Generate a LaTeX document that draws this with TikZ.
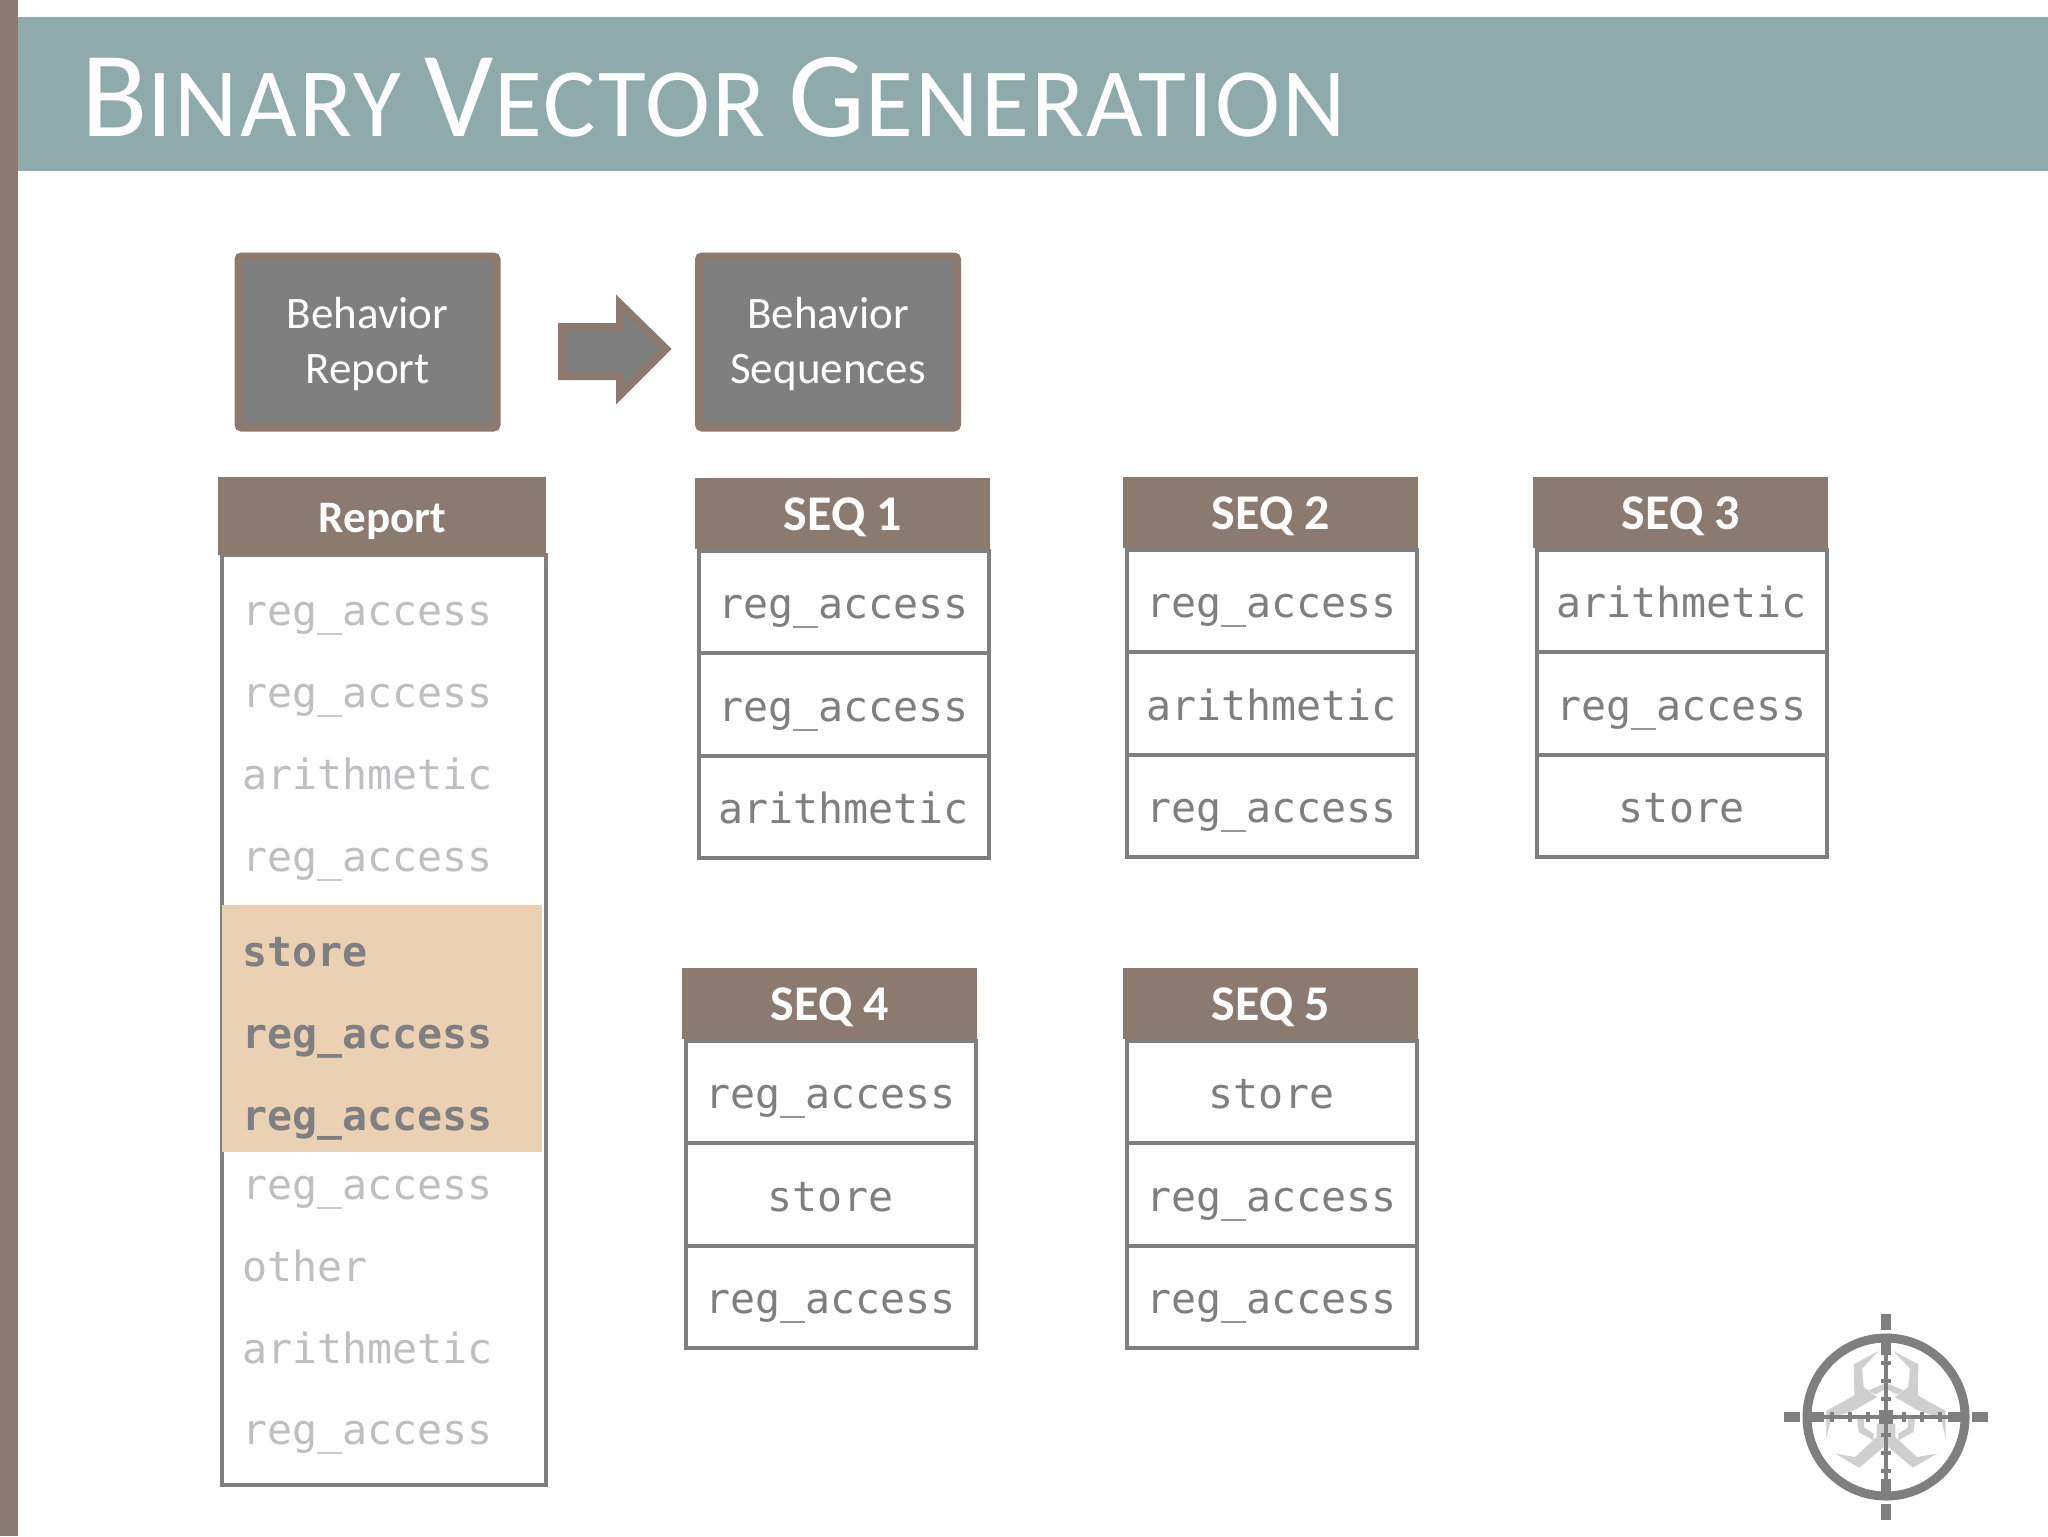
\documentclass[tikz,border=0pt]{standalone}
\usepackage{fontspec}
\setmainfont{Carlito}
\newfontfamily\monof{DejaVu Sans Mono}
\newfontfamily\titlef[LetterSpace=2.3]{Carlito}
\definecolor{brownc}{HTML}{8B7A70}
\definecolor{tealc}{HTML}{8EAAAB}
\definecolor{grayc}{HTML}{7F7F7F}
\definecolor{lightc}{HTML}{BFBFC1}
\definecolor{peachc}{HTML}{EBD1B3}
\definecolor{bioc}{HTML}{CFCFCF}
\newcommand{\bigc}[1]{{\fontsize{61}{61}\selectfont #1}}
\newcommand{\smlc}[1]{{\fontsize{49}{49}\selectfont #1}}
\tikzset{
  x=0.5pt,y=-0.5pt,
  hdrbox/.style={fill=brownc,draw=none,text=white,anchor=north west,inner sep=0pt,minimum width=147.5pt,minimum height=35.5pt,text height=16.5pt,text depth=0pt,font=\fontsize{25}{25}\selectfont\bfseries},
  rowbox/.style={draw=grayc,line width=2pt,fill=white,text=grayc,anchor=north west,inner sep=0pt,minimum width=145pt,minimum height=51.25pt,text height=17pt,text depth=0pt,font=\monof\fontsize{20.8}{20.8}\selectfont},
  topbox/.style={draw=brownc,fill=grayc,line width=4pt,rounded corners=1.5pt,text=white,align=center,inner sep=0pt,minimum width=129pt,minimum height=85.5pt,font=\fontsize{22.5}{27.5}\selectfont},
  replabel/.style={anchor=base west,inner sep=0pt,text=lightc,font=\monof\fontsize{20.8}{20.8}\selectfont},
  hilabel/.style={anchor=base west,inner sep=0pt,text=grayc,font=\monof\bfseries\fontsize{20.8}{20.8}\selectfont},
  bio/.style={fill=bioc,draw=none},
  scopeline/.style={fill=grayc,draw=none}
}
\newcommand{\seqtab}[7]{%
  \node[hdrbox] (#1h) at (#2,#3) {#4};
  \node[rowbox] (#1a) at (#2+1.5,#3+70.5) {#5};
  \node[rowbox] (#1b) at (#2+1.5,#3+173) {#6};
  \node[rowbox] (#1c) at (#2+1.5,#3+275.5) {#7};
}
\begin{document}
\begin{tikzpicture}
\useasboundingbox (0,0) rectangle (2048,1536);
\fill[white] (0,0) rectangle (2048,1536);
\fill[brownc] (0,0) rectangle (18,1536);
\fill[tealc] (18,17) rectangle (2048,171);
\node[anchor=base west,inner sep=0pt,text=white,font=\titlef] (title) at (81,136)
  {\bigc{B}\smlc{INARY}\hspace{12pt}\bigc{V}\smlc{ECTOR}\hspace{11.5pt}\bigc{G}\smlc{ENERATION}};
% top boxes
\node[topbox] (br) at (367.5,342) {\rule{0pt}{18pt}Behavior\\Report};
\node[topbox] (bs) at (828,342) {\rule{0pt}{18pt}Behavior\\Sequences};
\draw[draw=brownc,fill=grayc,line width=4pt,miter limit=10] (562,327)--(620,327)--(620,304)--(666,349)--(620,395)--(620,376)--(562,376)--cycle;
% report
\node[draw=grayc,line width=2pt,fill=white,anchor=north west,inner sep=0pt,minimum width=162pt,minimum height=465pt] (rb) at (219.5,552.5) {};
\node[fill=brownc,text=white,anchor=north west,inner sep=0pt,minimum width=164pt,minimum height=39pt,text height=16pt,text depth=0pt,font=\fontsize{22.5}{22.5}\selectfont\bfseries] (rh) at (218,477) {Report};
\node[fill=peachc,anchor=north west,inner sep=0pt,minimum width=160pt,minimum height=123.5pt] (hl) at (222,905) {};
\node[replabel] (r1) at (242,625.5) {reg\_access};
\node[replabel] (r2) at (242,707.5) {reg\_access};
\node[replabel] (r3) at (242,789.5) {arithmetic};
\node[replabel] (r4) at (242,871.5) {reg\_access};
\node[hilabel] (r5) at (242,966) {store};
\node[hilabel] (r6) at (242,1048) {reg\_access};
\node[hilabel] (r7) at (242,1130) {reg\_access};
\node[replabel] (r8) at (242,1199.5) {reg\_access};
\node[replabel] (r9) at (242,1281.5) {other};
\node[replabel] (r10) at (242,1363.5) {arithmetic};
\node[replabel] (r11) at (242,1444.5) {reg\_access};
% sequences
\seqtab{sa}{695}{478}{SEQ 1}{reg\_access}{reg\_access}{arithmetic}
\seqtab{sb}{1123}{477}{SEQ 2}{reg\_access}{arithmetic}{reg\_access}
\seqtab{sc}{1533}{477}{SEQ 3}{arithmetic}{reg\_access}{store}
\seqtab{sd}{682}{968}{SEQ 4}{reg\_access}{store}{reg\_access}
\seqtab{se}{1123}{968}{SEQ 5}{store}{reg\_access}{reg\_access}
% logo
\begin{scope}[shift={(1886,1417)},x=0.1667pt,y=-0.1667pt]
  \begin{scope}[shift={(-437,-380)}]
  \fill[bio] (415,182)--(365,235)--(370,290)--(410,320)--(345,358)--(272,385)--(258,445)--(258,362)--(342,315)--(340,222)--cycle;
  \fill[bio] (459,182)--(509,235)--(504,290)--(464,320)--(529,358)--(602,385)--(616,445)--(616,362)--(532,315)--(534,222)--cycle;
  \fill[bio] (285,490)--(357,532)--(430,470)--(444,470)--(517,532)--(590,490)--(530,500)--(465,440)--(465,400)--(409,400)--(409,440)--(344,500)--cycle;
  \fill[bio] (385,300)--(437,278)--(490,300)--(470,312)--(437,295)--(405,312)--cycle;
  \fill[bio] (350,385)--(355,425)--(400,450)--(400,430)--(372,412)--(370,385)--cycle;
  \fill[bio] (524,385)--(519,425)--(474,450)--(474,430)--(502,412)--(504,385)--cycle;
  \end{scope}
  \draw[grayc,line width=4.5pt] (0,0) circle (237);
  % outer ticks
  \fill[scopeline] (-306,-14) rectangle (-258,14);
  \fill[scopeline] (258,-14) rectangle (306,14);
  \fill[scopeline] (-14,-309) rectangle (14,-261);
  \fill[scopeline] (-14,261) rectangle (14,309);
  % inner thick
  \fill[scopeline] (-225,-14) rectangle (-185,14);
  \fill[scopeline] (185,-14) rectangle (225,14);
  \fill[scopeline] (-14,-225) rectangle (14,-185);
  \fill[scopeline] (-14,185) rectangle (14,225);
  % thin cross
  \fill[scopeline] (-190,-5) rectangle (190,5);
  \fill[scopeline] (-5,-190) rectangle (5,190);
  \fill[scopeline] (-22,-22) rectangle (22,22);
  \foreach \d in {54,108,162}{
    \fill[scopeline] (-\d-7,-14) rectangle (-\d+7,14);
    \fill[scopeline] (\d-7,-14) rectangle (\d+7,14);
    \fill[scopeline] (-14,-\d-7) rectangle (14,-\d+7);
    \fill[scopeline] (-14,\d-7) rectangle (14,\d+7);
  }
\end{scope}
\end{tikzpicture}
\end{document}
